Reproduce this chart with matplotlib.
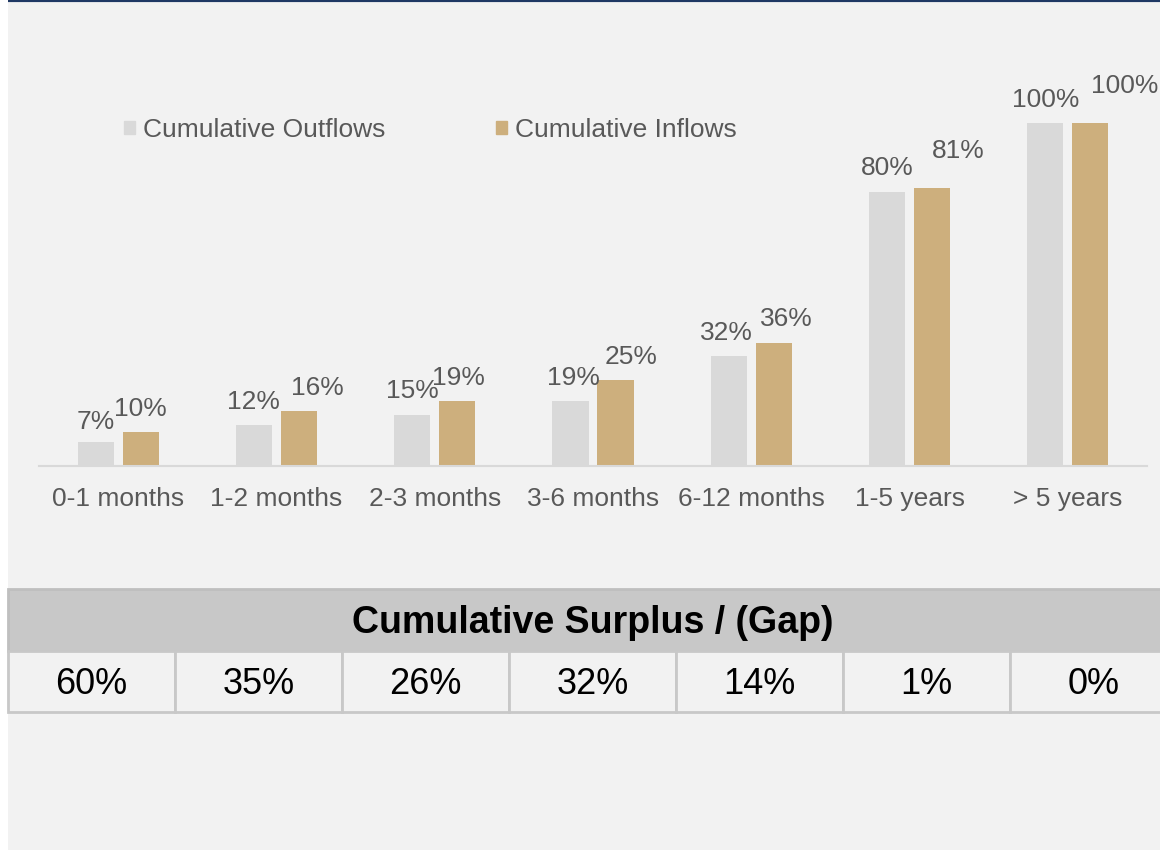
import matplotlib.pyplot as plt
from matplotlib.patches import Rectangle, Patch

categories = ['0-1 months', '1-2 months', '2-3 months', '3-6 months',
              '6-12 months', '1-5 years', '> 5 years']
outflows = [7, 12, 15, 19, 32, 80, 100]
inflows = [10, 16, 19, 25, 36, 81, 100]
surplus = ['60%', '35%', '26%', '32%', '14%', '1%', '0%']

# label nudges in points (dx, dy), mimicking the source layout
out_nudge = [(0, -2), (0, 0), (0, 0), (2, 0), (-2, 0), (0, 0), (0, 0)]
in_nudge = [(0, 0), (13, 0), (1, 0), (11, 0), (9, 0), (19, 10), (25, 10)]

BG = '#f2f2f2'
GREY = '#d9d9d9'
GOLD = '#cdaf7d'
TXT = '#595959'
W, H = 1160, 850


def px(x0, y0, x1, y1):
    # pixel box (top-left origin) -> figure fraction rect
    return [x0 / W, 1 - y1 / H, (x1 - x0) / W, (y1 - y0) / H]


def main():
    plt.rcParams['font.family'] = ['Liberation Sans', 'DejaVu Sans']
    fig = plt.figure(figsize=(11.6, 8.5), dpi=100, facecolor='white')

    # page background and top rule
    bg = fig.add_axes(px(8, 0, W, H))
    bg.set_facecolor(BG)
    bg.set_xticks([])
    bg.set_yticks([])
    for s in bg.spines.values():
        s.set_visible(False)
    bg.axhline(1, color='#1f3864', lw=3)
    bg.set_ylim(0, 1)

    ax = fig.add_axes(px(39, 54.4, 1147, 466))
    ax.patch.set_alpha(0)
    x = list(range(len(categories)))
    off = 0.1424
    bw = 0.228
    b1 = ax.bar([i - off for i in x], outflows, bw, color=GREY, label='Cumulative Outflows')
    b2 = ax.bar([i + off for i in x], inflows, bw, color=GOLD, label='Cumulative Inflows')
    ax.set_xlim(-0.5, len(categories) - 0.5)
    ax.set_ylim(0, 120)

    for bars, vals, nud in ((b1, outflows, out_nudge), (b2, inflows, in_nudge)):
        for r, v, (dx, dy) in zip(bars, vals, nud):
            ax.annotate(f'{v}%', (r.get_x() + r.get_width() / 2, r.get_height()),
                        xytext=(dx, 8 + dy), textcoords='offset points',
                        ha='center', va='bottom', fontsize=19, color=TXT)

    for s in ['top', 'right', 'left']:
        ax.spines[s].set_visible(False)
    ax.spines['bottom'].set_color(GREY)
    ax.spines['bottom'].set_linewidth(1.5)
    ax.set_yticks([])
    ax.set_xticks(x)
    ax.set_xticklabels(categories, fontsize=19, color=TXT)
    ax.tick_params(axis='x', length=0, pad=15)

    handles = [Patch(color=GREY), Patch(color=GOLD)]
    fig.legend(handles, ['Cumulative Outflows', 'Cumulative Inflows'],
               loc='center left', bbox_to_anchor=(100 / W, 1 - 130 / H),
               ncol=2, frameon=False, fontsize=19, labelcolor=TXT,
               handlelength=0.42, handleheight=0.42, handletextpad=0.3,
               columnspacing=4.2)

    # surplus / gap table
    tb = fig.add_axes(px(8, 589, 8 + 167 * 7, 712))
    tb.set_xlim(0, 7)
    tb.set_ylim(0, 2)
    tb.axis('off')
    tb.add_patch(Rectangle((0, 1), 7, 1, facecolor='#c8c8c8', edgecolor='#bfbfbf',
                           lw=2, clip_on=False))
    tb.text(3.5, 1.45, 'Cumulative Surplus / (Gap)', ha='center', va='center',
            fontsize=27, fontweight='bold', color='black')
    for i, val in enumerate(surplus):
        tb.add_patch(Rectangle((i, 0), 1, 1, facecolor=BG, edgecolor='#c8c8c8',
                               lw=2, clip_on=False))
        tb.text(i + 0.5, 0.45, val, ha='center', va='center', fontsize=26, color='black')

    fig.savefig('out.png', dpi=100, facecolor='white')


if __name__ == '__main__':
    main()
